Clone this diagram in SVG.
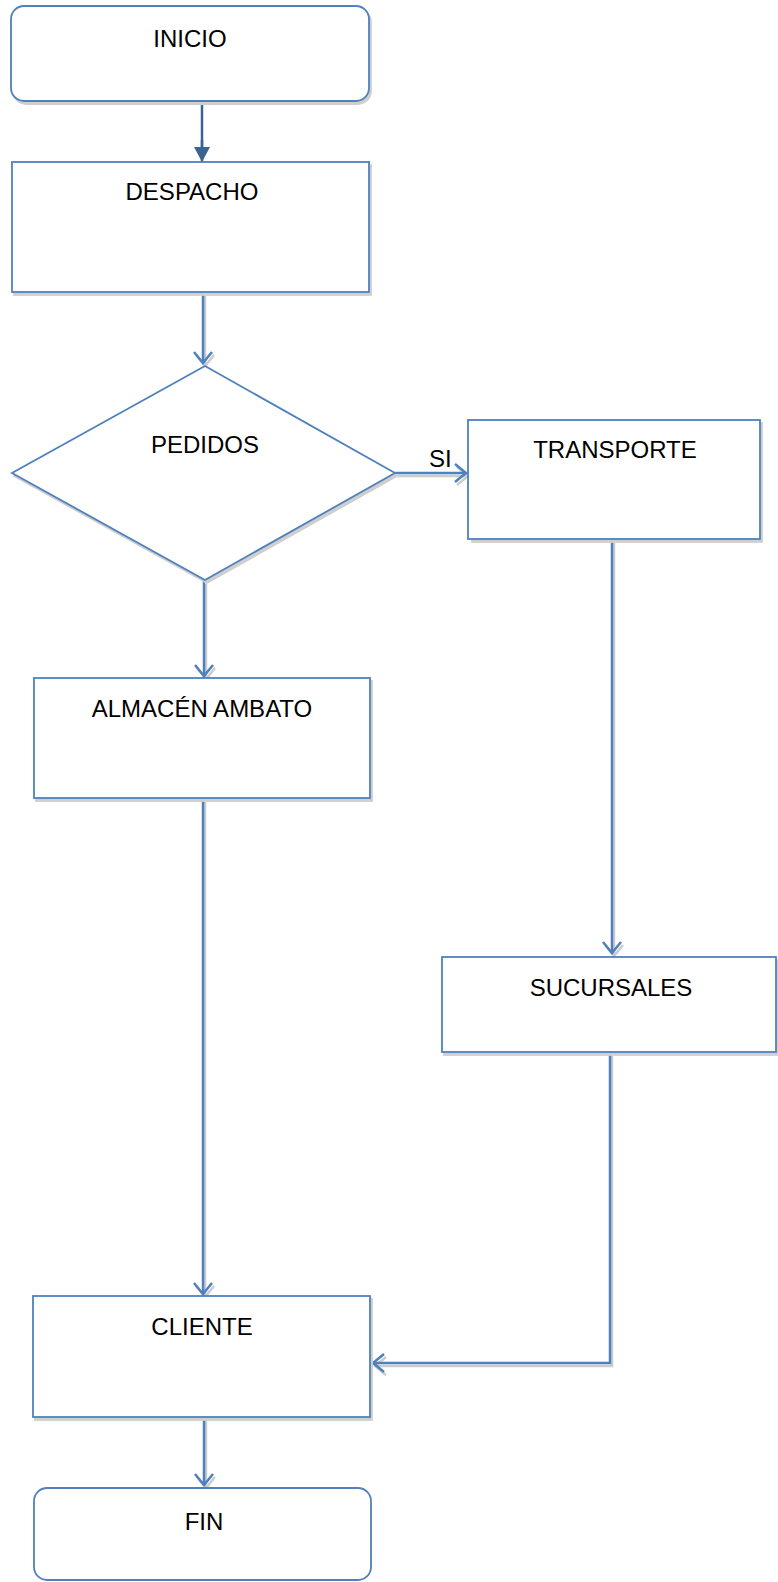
<svg xmlns="http://www.w3.org/2000/svg" xmlns:xlink="http://www.w3.org/1999/xlink" width="778" height="1582" viewBox="0 0 778 1582">
<style>
.shape{fill:#ffffff;stroke:#4f81bd;stroke-width:1.8}
.shadow{fill:#cfcfcf;stroke:#cfcfcf;stroke-width:1.8}
.conn{fill:none;stroke:#4f81bd;stroke-width:2.5}
.conn-dark{fill:none;stroke:#3b6496;stroke-width:2.5}
.conn-shadow{fill:none;stroke:#cccccc;stroke-width:2.5}
.label{font-family:"Liberation Sans",Arial,sans-serif;font-size:24px;fill:#000000;text-anchor:middle}
</style>
<defs>
<marker id="openArrow" markerUnits="userSpaceOnUse" viewBox="-14 -11 16 22" markerWidth="16" markerHeight="22" refX="0" refY="0" orient="auto">
<path d="M-11,-9 L0,0 L-11,9" fill="none" stroke="#4f81bd" stroke-width="2.5"/>
</marker>
<marker id="openArrowShadow" markerUnits="userSpaceOnUse" viewBox="-14 -11 16 22" markerWidth="16" markerHeight="22" refX="0" refY="0" orient="auto">
<path d="M-11,-9 L0,0 L-11,9" fill="none" stroke="#cccccc" stroke-width="2.5"/>
</marker>
<marker id="solidArrow" markerUnits="userSpaceOnUse" viewBox="-16 -9 17 18" markerWidth="17" markerHeight="18" refX="0" refY="0" orient="auto">
<path d="M-15,-8 L0,0 L-15,8 Z" fill="#3b6496"/>
</marker>
</defs>

<g id="connectors">
<g id="connector-shadows" transform="translate(2,3)">
<path class="conn-shadow" d="M203,293 V363" marker-end="url(#openArrowShadow)"/>
<path class="conn-shadow" d="M395,473 H466" marker-end="url(#openArrowShadow)"/>
<path class="conn-shadow" d="M204,581 V676" marker-end="url(#openArrowShadow)"/>
<path class="conn-shadow" d="M612,540 V953" marker-end="url(#openArrowShadow)"/>
<path class="conn-shadow" d="M203,799 V1294" marker-end="url(#openArrowShadow)"/>
<path class="conn-shadow" d="M610,1053 V1363 H373" marker-end="url(#openArrowShadow)"/>
<path class="conn-shadow" d="M204,1418 V1485" marker-end="url(#openArrowShadow)"/>
</g>
<path class="conn-dark" d="M202,101 V147"/>
<path class="conn-dark" d="M202,140 V162" stroke="none" marker-end="url(#solidArrow)"/>
<path class="conn" d="M203,293 V363" marker-end="url(#openArrow)"/>
<path class="conn" d="M395,473 H466" marker-end="url(#openArrow)"/>
<path class="conn" d="M204,581 V676" marker-end="url(#openArrow)"/>
<path class="conn" d="M612,540 V953" marker-end="url(#openArrow)"/>
<path class="conn" d="M203,799 V1294" marker-end="url(#openArrow)"/>
<path class="conn" d="M610,1053 V1363 H373" marker-end="url(#openArrow)"/>
<path class="conn" d="M204,1418 V1485" marker-end="url(#openArrow)"/>
</g>

<g id="node-inicio">
<rect class="shadow" x="13" y="9" width="358" height="95" rx="13"/>
<rect class="shape" x="11" y="6" width="358" height="95" rx="13"/>
<text class="label" x="190" y="47">INICIO</text>
</g>

<g id="node-despacho">
<rect class="shadow" x="14" y="165" width="357" height="130"/>
<rect class="shape" x="12" y="162" width="357" height="130"/>
<text class="label" x="192" y="200">DESPACHO</text>
</g>

<g id="node-pedidos">
<polygon class="shadow" points="207,369 397,476 207,583 14,476"/>
<polygon class="shape" points="205,366 395,473 205,580 12,473"/>
<text class="label" x="205" y="453">PEDIDOS</text>
</g>

<g id="label-si">
<text class="label" x="429" y="467" style="text-anchor:start">SI</text>
</g>

<g id="node-transporte">
<rect class="shadow" x="472" y="423" width="290" height="119"/>
<rect class="shape" x="468" y="420" width="292" height="119"/>
<text class="label" x="615" y="458">TRANSPORTE</text>
</g>

<g id="node-almacen">
<rect class="shadow" x="36" y="681" width="336" height="120"/>
<rect class="shape" x="34" y="678" width="336" height="120"/>
<text class="label" x="202" y="717">ALMACÉN AMBATO</text>
</g>

<g id="node-sucursales">
<rect class="shadow" x="444" y="960" width="335" height="95"/>
<rect class="shape" x="442" y="957" width="334" height="95"/>
<text class="label" x="611" y="996">SUCURSALES</text>
</g>

<g id="node-cliente">
<rect class="shadow" x="35" y="1299" width="337" height="121"/>
<rect class="shape" x="33" y="1296" width="337" height="121"/>
<text class="label" x="202" y="1335">CLIENTE</text>
</g>

<g id="node-fin">
<rect class="shape" x="34" y="1488" width="337" height="92" rx="13"/>
<text class="label" x="204" y="1530">FIN</text>
</g>
</svg>
